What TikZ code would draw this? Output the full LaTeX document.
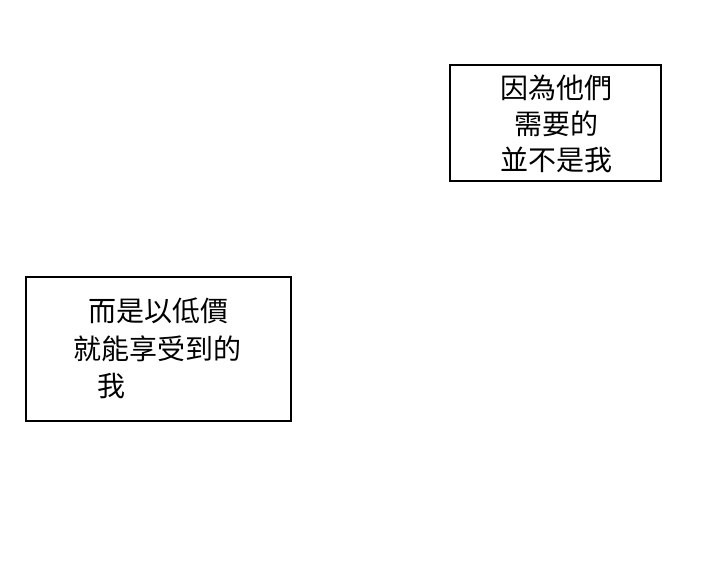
\documentclass[tikz,border=0pt]{standalone}
\usepackage{fontspec}
\newfontfamily\cjk{Noto Sans CJK TC}
\begin{document}
\begin{tikzpicture}[x=1pt,y=-1pt,
  bubble/.style={draw=black,line width=1.8pt,fill=white},
  txt/.style={font=\cjk\fontsize{28}{30}\selectfont,inner sep=0pt,anchor=center}]
\useasboundingbox[fill=white] (0,0) rectangle (720,585);
\draw[bubble] (450,65) rectangle (661,181);
\node[txt] (a1) at (556,88) {因為他們};
\node[txt] (a2) at (556,124) {需要的};
\node[txt] (a3) at (556,160) {並不是我};
\draw[bubble] (26,277) rectangle (291,421);
\node[txt] (b1) at (158,311) {而是以低價};
\node[txt] (b2) at (157,349) {就能享受到的};
\node[txt] (b3) at (111,386) {我};
\end{tikzpicture}
\end{document}
